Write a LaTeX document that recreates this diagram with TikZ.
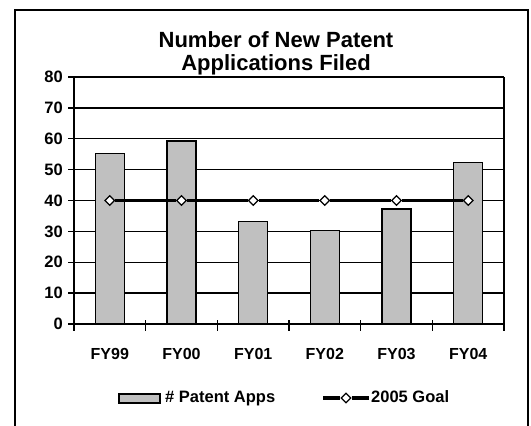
\documentclass[tikz,border=0pt]{standalone}
\usepackage{fontspec}
\setmainfont{Liberation Sans}
\usetikzlibrary{shapes.geometric}

\begin{document}
\begin{tikzpicture}[
x=1pt, y=-1pt,
%scale=.5, every node/.style={scale=0.6},
frameline/.style={line width=1.5pt},
gridline/.style={line width=1.3pt},
patbar/.style={draw, line width=1.4pt, fill={rgb,255:red,192;green,192;blue,192},
	minimum width=29pt, inner sep=0pt, anchor=south},
goalpt/.style={diamond, draw, fill=white, line width=1.3pt, inner sep=0pt,
	minimum width=10pt, minimum height=10pt},
goalline/.style={line width=3.5pt},
ylab/.style={anchor=east, font=\fontsize{16.5}{18}\selectfont\bfseries, inner sep=0pt},
xlab/.style={anchor=base, font=\fontsize{16}{18}\selectfont\bfseries, inner sep=0pt},
title/.style={anchor=base, font=\fontsize{22}{24}\selectfont\bfseries, inner sep=0pt},
legtext/.style={anchor=base west, font=\fontsize{16.5}{18}\selectfont\bfseries, inner sep=0pt},
%level/.style={sibling distance=60mm/#1},
]
\useasboundingbox (0,0) rectangle (531,426);
% outer frame (bottom cut off)
\draw[frameline] (15,426) -- (15,10) -- (528,10) -- (528,426);

% title
\node[title] (title1) at (276,47.5) {Number of New Patent};
\node[title] (title2) at (276,70.6) {Applications Filed};

% grid lines
\draw[gridline] (68,324) -- (504,324);
\draw[gridline] (68,293.1) -- (504,293.1);
\draw[gridline] (68,262.3) -- (504,262.3);
\draw[gridline] (68,231.4) -- (504,231.4);
\draw[gridline] (68,200.5) -- (504,200.5);
\draw[gridline] (68,169.6) -- (504,169.6);
\draw[gridline] (68,138.8) -- (504,138.8);
\draw[gridline] (68,107.9) -- (504,107.9);
\draw[gridline] (68,77) -- (504,77);
% axes
\draw[gridline] (74,77) -- (74,331);
\draw[gridline] (504,77) -- (504,331);
%\draw[gridline] (74,324) -- (504,324);
\draw[gridline] (145.7,320) -- (145.7,331);
\draw[gridline] (217.3,320) -- (217.3,331);
\draw[gridline] (289,320) -- (289,331);
\draw[gridline] (360.7,320) -- (360.7,331);
\draw[gridline] (432.3,320) -- (432.3,331);

% y labels
\node[ylab] (y0) at (63,324) {0};
\node[ylab] (y10) at (63,293.1) {10};
\node[ylab] (y20) at (63,262.3) {20};
\node[ylab] (y30) at (63,231.4) {30};
\node[ylab] (y40) at (63,200.5) {40};
\node[ylab] (y50) at (63,169.6) {50};
\node[ylab] (y60) at (63,138.8) {60};
\node[ylab] (y70) at (63,107.9) {70};
\node[ylab] (y80) at (63,77) {80};

% bars
\node[patbar, minimum height=169.8pt] (b99) at (109.8,324) {};
\node[patbar, minimum height=182.2pt] (b00) at (181.5,324) {};
\node[patbar, minimum height=101.9pt] (b01) at (253.2,324) {};
\node[patbar, minimum height=92.6pt] (b02) at (324.8,324) {};
\node[patbar, minimum height=114.2pt] (b03) at (396.5,324) {};
\node[patbar, minimum height=160.6pt] (b04) at (468.2,324) {};

% x labels
\node[xlab] (fy99) at (109.8,359.3) {FY99};
\node[xlab] (fy00) at (181.5,359.3) {FY00};
\node[xlab] (fy01) at (253.2,359.3) {FY01};
\node[xlab] (fy02) at (324.8,359.3) {FY02};
\node[xlab] (fy03) at (396.5,359.3) {FY03};
\node[xlab] (fy04) at (468.2,359.3) {FY04};

% goal
\node[goalpt] (g99) at (109.8,200.5) {};
\node[goalpt] (g00) at (181.5,200.5) {};
\node[goalpt] (g01) at (253.2,200.5) {};
\node[goalpt] (g02) at (324.8,200.5) {};
\node[goalpt] (g03) at (396.5,200.5) {};
\node[goalpt] (g04) at (468.2,200.5) {};
\draw[goalline] (g99) -- (g00) -- (g01) -- (g02) -- (g03) -- (g04);

% legend
\node[patbar, anchor=center, minimum width=41pt, minimum height=9pt] (legbar) at (139.5,398.5) {};
\node[legtext] (legapps) at (165,402.3) {\# Patent Apps};
\coordinate (legA) at (323,398);
\coordinate (legB) at (369,398);
\node[goalpt] (legpt) at (346,398) {};
\draw[goalline] (legA) -- (legpt) -- (legB);
\node[legtext] (leggoal) at (371,402.3) {2005 Goal};
\end{tikzpicture}
\end{document}
